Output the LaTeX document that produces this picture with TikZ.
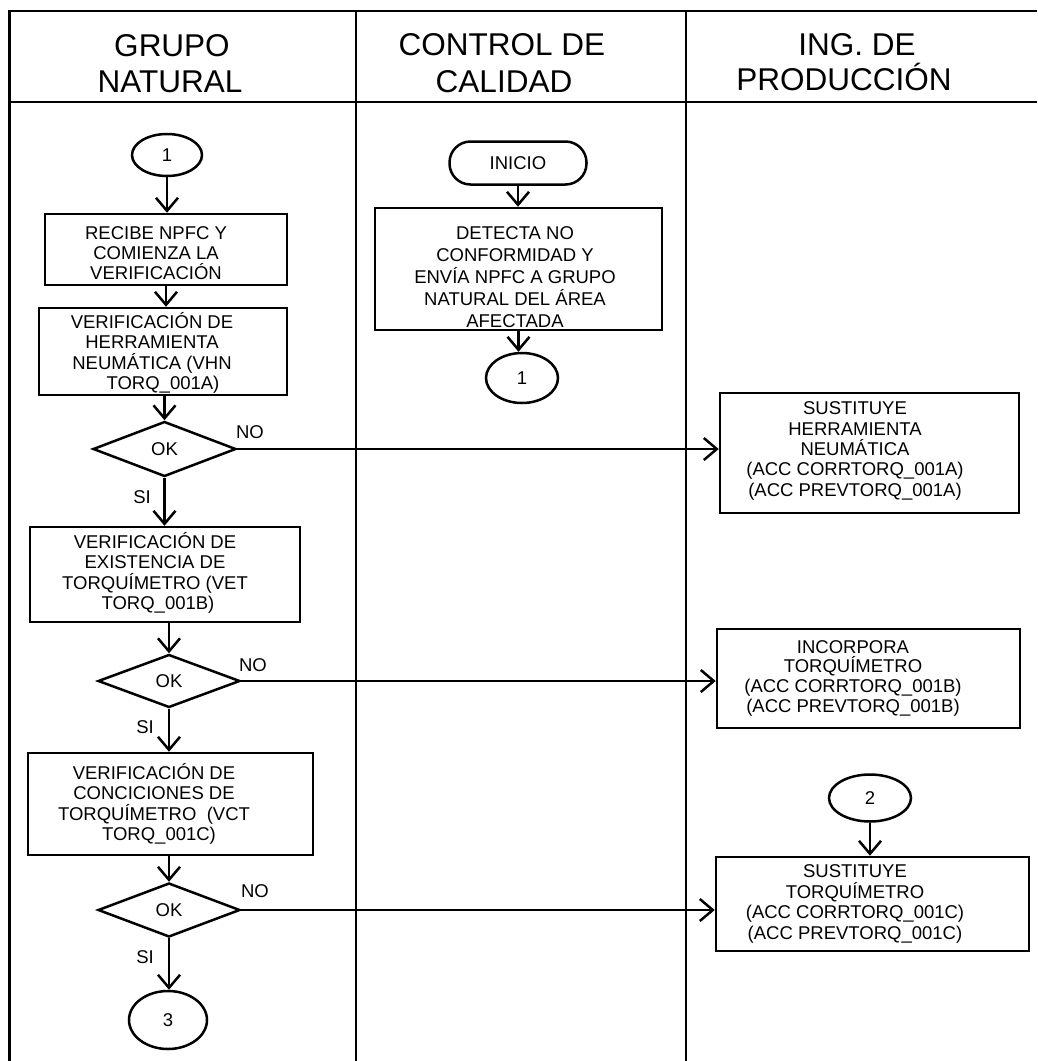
\documentclass[tikz,border=0pt]{standalone}
\usepackage{fontspec}
\setmainfont{Liberation Sans}
\usetikzlibrary{shapes.geometric, arrows.meta}

\begin{document}
\begin{tikzpicture}[x=1pt, y=-1pt,
  lane/.style={line width=2.5pt},
  procbox/.style={draw, line width=2.5pt, rectangle, inner sep=0pt},
  boxtext/.style={font=\fontsize{18.5}{20.3}\selectfont, align=center, inner sep=0pt},
  connector/.style={draw, line width=2.5pt, ellipse, inner sep=0pt, font=\fontsize{18.5}{20}\selectfont},
  decision/.style={draw, line width=2.5pt, diamond, inner sep=0pt, font=\fontsize{18.5}{20}\selectfont},
  terminal/.style={draw, line width=2.5pt, rectangle, rounded corners=21pt, inner sep=0pt, font=\fontsize{18.5}{20}\selectfont},
  flow/.style={line width=2.5pt, -{Straight Barb[length=13pt,width=22pt]}},
  answer/.style={font=\fontsize{18.5}{20}\selectfont, inner sep=0pt},
  lanehead/.style={font=\fontsize{31.5}{37}\selectfont, inner sep=0pt, anchor=base}
]
\useasboundingbox (0,0) rectangle (1037,1061);

% swimlane frame
\draw[lane] (9.5,1061) -- (9.5,11) -- (1037,11);
\draw[lane] (9.5,102) -- (1037,102);
\draw[lane] (356,11) -- (356,1061);
\draw[lane] (686,11) -- (686,1061);

% lane titles
\node[lanehead] (h1a) at (172,56) {GRUPO};
\node[lanehead] (h1b) at (170,92) {NATURAL};
\node[lanehead] (h2a) at (502,55) {CONTROL DE};
\node[lanehead] (h2b) at (504,92) {CALIDAD};
\node[lanehead] (h3a) at (857,55) {ING. DE};
\node[lanehead] (h3b) at (844,90) {PRODUCCIÓN};

% GRUPO NATURAL
\node[connector, minimum width=70pt, minimum height=42pt] (c1a) at (167,155) {1};
\node[procbox, minimum width=242pt, minimum height=71pt] (b1) at (166,249.5) {};
\node[boxtext] (t1) at (156,253) {RECIBE NPFC Y\\COMIENZA LA\\VERIFICACIÓN};
\node[procbox, minimum width=248pt, minimum height=87pt] (b2) at (163,351.5) {};
\node[boxtext] (t2) at (152,353) {VERIFICACIÓN DE\\HERRAMIENTA\\NEUMÁTICA (VHN\\\hspace*{22pt}TORQ\_001A)};
\node[decision, minimum width=143pt, minimum height=55pt] (d1) at (164.5,449) {OK};
\node[procbox, minimum width=270pt, minimum height=95pt] (b3) at (165,574.5) {};
\node[boxtext] (t3) at (155,573) {VERIFICACIÓN DE\\EXISTENCIA DE\\TORQUÍMETRO (VET\\\hspace*{6pt}TORQ\_001B)};
\node[decision, minimum width=142pt, minimum height=53pt] (d2) at (169,681) {OK};
\node[procbox, minimum width=285pt, minimum height=102pt] (b4) at (170.5,804) {};
\node[boxtext] (t4) at (154,804) {VERIFICACIÓN DE\\CONCICIONES DE\\TORQUÍMETRO~~(VCT\\\hspace*{10pt}TORQ\_001C)};
\node[decision, minimum width=142pt, minimum height=54pt] (d3) at (169,910) {OK};
\node[connector, minimum width=78pt, minimum height=58pt] (c3) at (168,1020) {3};

\node[answer] (no1) at (250,432) {NO};
\node[answer] (si1) at (142,497) {SI};
\node[answer] (no2) at (253,665) {NO};
\node[answer] (si2) at (145,727) {SI};
\node[answer] (no3) at (255,891) {NO};
\node[answer] (si3) at (145,957) {SI};

% CONTROL DE CALIDAD
\node[terminal, minimum width=137pt, minimum height=43pt] (inicio) at (518,163) {INICIO};
\node[procbox, minimum width=287pt, minimum height=122pt] (detect) at (518.5,269) {};
\node[boxtext, font=\fontsize{18.5}{22}\selectfont] (tdet) at (515,277) {DETECTA NO\\CONFORMIDAD Y\\ENVÍA NPFC A GRUPO\\NATURAL DEL ÁREA\\AFECTADA};
\node[connector, minimum width=72pt, minimum height=50pt] (c1b) at (522,378) {1};

% ING. DE PRODUCCION
\node[procbox, minimum width=299pt, minimum height=120pt] (sust1) at (869.5,453) {};
\node[boxtext] (ts1) at (855,451) {SUSTITUYE\\HERRAMIENTA\\NEUMÁTICA\\(ACC CORRTORQ\_001A)\\(ACC PREVTORQ\_001A)};
\node[procbox, minimum width=303pt, minimum height=99pt] (incorp) at (868.5,678.5) {};
\node[boxtext, font=\fontsize{18.5}{19.7}\selectfont] (tinc) at (853,678) {INCORPORA\\TORQUÍMETRO\\(ACC CORRTORQ\_001B)\\(ACC PREVTORQ\_001B)};
\node[connector, minimum width=82pt, minimum height=47pt] (c2) at (870,798) {2};
\node[procbox, minimum width=313pt, minimum height=94pt] (sust2) at (872.5,904) {};
\node[boxtext, font=\fontsize{18.5}{20.7}\selectfont] (ts2) at (855,904) {SUSTITUYE\\TORQUÍMETRO\\(ACC CORRTORQ\_001C)\\(ACC PREVTORQ\_001C)};

% connectors
\draw[flow] (c1a.south) -- (c1a.south |- b1.north);
\draw[flow] (b1.south) -- (b1.south |- b2.north);
\draw[flow] (d1.north |- b2.south) -- (d1.north);
\draw[flow] (d1.south) -- (d1.south |- b3.north);
\draw[flow] (d1.east) -- (d1.east -| sust1.west);
\draw[flow] (d2.north |- b3.south) -- (d2.north);
\draw[flow] (d2.south) -- (d2.south |- b4.north);
\draw[flow] (d2.east) -- (d2.east -| incorp.west);
\draw[flow] (d3.north |- b4.south) -- (d3.north);
\draw[flow] (d3.south) -- (d3.south |- c3.north);
\draw[flow] (d3.east) -- (d3.east -| sust2.west);
\draw[flow] (inicio.south) -- (inicio.south |- detect.north);
\draw[flow] (detect.south) -- (detect.south |- c1b.north);
\draw[flow] (c2.south) -- (c2.south |- sust2.north);
\end{tikzpicture}
\end{document}
